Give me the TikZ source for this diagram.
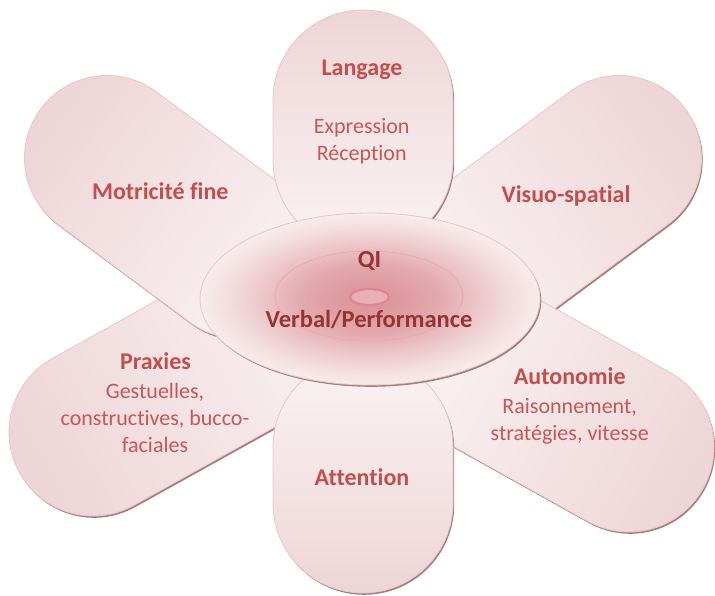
\documentclass[tikz,border=0pt]{standalone}
\usepackage{fontspec}
\setmainfont{Carlito}[Ligatures={NoCommon,NoContextual},Contextuals=NoAlternate]
\definecolor{petalDark}{RGB}{238,213,215}
\definecolor{petalLight}{RGB}{250,243,244}
\definecolor{petalEdge}{RGB}{233,198,200}
\definecolor{shadowC}{RGB}{165,125,128}
\definecolor{titleC}{RGB}{192,80,77}
\definecolor{subC}{RGB}{198,88,86}
\definecolor{centerC}{RGB}{150,52,50}
\definecolor{ringC}{RGB}{236,168,173}
\definecolor{smallRingC}{RGB}{226,130,150}
\definecolor{smallRingFill}{RGB}{232,176,181}
\pgfdeclareradialshading{coreshade}{\pgfpoint{0bp}{0bp}}{%
 rgb(0bp)=(0.86,0.58,0.60);
 rgb(4bp)=(0.865,0.60,0.62);
 rgb(10bp)=(0.885,0.66,0.68);
 rgb(15bp)=(0.92,0.76,0.775);
 rgb(21bp)=(0.955,0.87,0.875);
 rgb(25bp)=(0.97,0.925,0.93);
 rgb(50bp)=(0.97,0.925,0.93)}
% #1 outer cap centre, #2 vector outer->inner centre, #3 direction angle, #4 radius
\newcommand\petalpath[4]{([shift={(#3+90:#4)}]#1) arc[start angle=#3+90, end angle=#3+270, radius=#4] -- ++(#2) arc[start angle=#3-90, end angle=#3+90, radius=#4] -- cycle}
\newcommand\petal[5]{%
  \begin{scope}[shift={(1.2,-1.8)}]
    \fill[shadowC] \petalpath{#1}{#2}{#3}{#4};
  \end{scope}
  \shadedraw[petalstyle, top color=petalDark, bottom color=petalLight, shading angle=#5] \petalpath{#1}{#2}{#3}{#4};
}
\tikzset{
  petalstyle/.style={draw=petalEdge, line width=0.8pt},
  ttl/.style={font=\fontsize{24}{28}\selectfont\bfseries, text=titleC, anchor=base, inner sep=0pt},
  subt/.style={font=\fontsize{22}{26}\selectfont, text=subC, anchor=base, inner sep=0pt},
  ctr/.style={font=\fontsize{24.5}{28}\selectfont\bfseries, text=centerC, anchor=base, inner sep=0pt},
}
\begin{document}
\begin{tikzpicture}[x=1pt,y=1pt]
\useasboundingbox (0,0) rectangle (715,595);
\fill[white] (0,0) rectangle (715,595);
% petals (drawing order as in the reference)
\petal{619,437}{-132,-98}{216.6}{82.5}{306.6}% Visuo-spatial
\petal{629,148}{-140,78}{150.9}{85}{240.9}% Autonomie
\petal{93,163}{180,100}{29.05}{84}{119.05}% Praxies
\petal{107,437}{132,-98}{-36.6}{82.5}{53.4}% Motricite
\petal{363,92}{0,56}{90}{90}{180}% Attention
\petal{363,495}{0,-60}{-90}{90}{0}% Langage
% central ellipse
\fill[shadowC] (371.3,294.2) ellipse[x radius=170, y radius=86];
\shadedraw[shading=coreshade, draw=petalEdge, line width=0.8pt] (370,296) ellipse[x radius=170, y radius=86];
\draw[ringC, line width=0.8pt] (369,299) ellipse[x radius=94, y radius=45];
\draw[smallRingC, fill=smallRingFill, line width=2.2pt] (369.5,298) ellipse[x radius=19.5, y radius=8];
% texts
\node[ctr] (qi) at (369.5,327.3) {QI};
\node[ctr] (vp) at (369,267.3) {Verbal/Performance};
\node[ttl] (lang) at (362,519) {Langage};
\node[subt] (expr) at (361.7,461) {Expression};
\node[subt] (recep) at (361.7,434.3) {Réception};
\node[ttl] (motr) at (160.3,395) {Motricité fine};
\node[ttl] (visuo) at (566,392.3) {Visuo-spatial};
\node[ttl] (prax) at (155.5,225) {Praxies};
\node[subt] (prax1) at (155,196.7) {Gestuelles,};
\node[subt] (prax2) at (155,169.3) {constructives, bucco-};
\node[subt] (prax3) at (155,142.7) {faciales};
\node[ttl] (auto) at (569.7,210) {Autonomie};
\node[subt] (auto1) at (569.7,181) {Raisonnement,};
\node[subt] (auto2) at (569.7,154.3) {stratégies, vitesse};
\node[ttl] (att) at (362,109.3) {Attention};
\end{tikzpicture}
\end{document}
